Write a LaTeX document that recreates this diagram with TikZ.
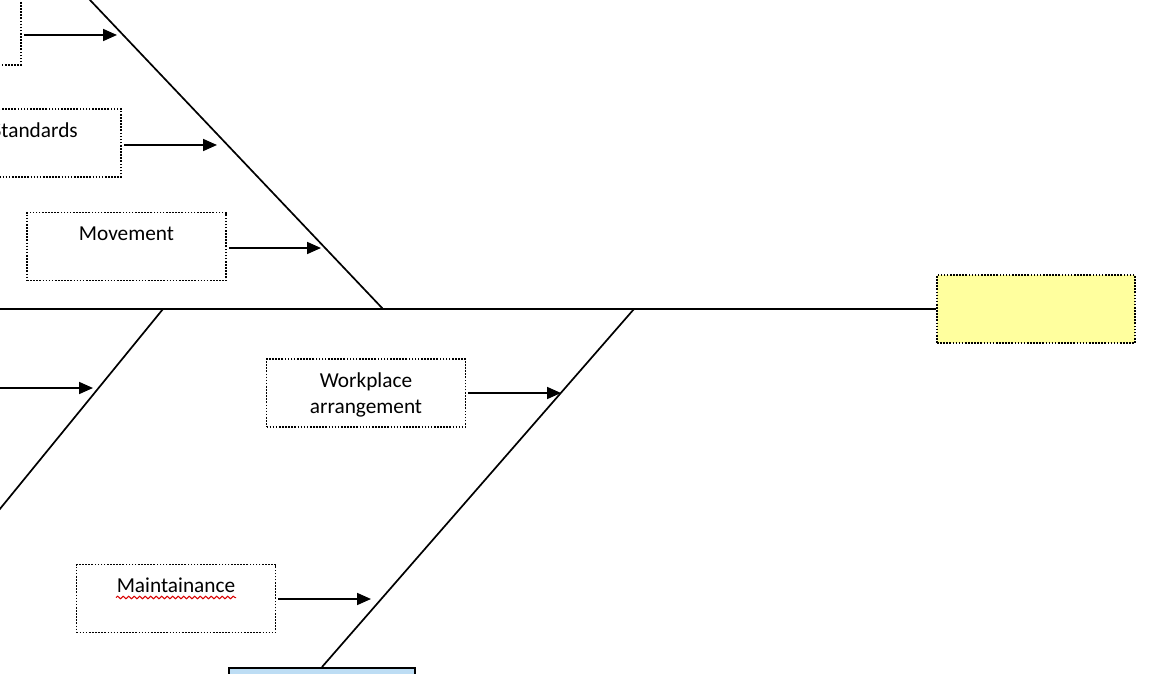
\documentclass[tikz,border=0pt]{standalone}
\usepackage{fontspec}
\setmainfont{Carlito}
\usetikzlibrary{arrows.meta,decorations.pathmorphing}
\definecolor{effectyellow}{HTML}{FFFF9E}
\definecolor{headblue}{HTML}{BDDDF4}
\newcommand{\lowline}[1]{\strut\raisebox{-2pt}{#1}}
\begin{document}
\begin{tikzpicture}[x=1pt,y=-1pt,
  bone/.style={line width=1.7pt},
  causebox/.style={draw, line width=1.6pt, dash pattern=on 1.6pt off 1.5pt,
    minimum width=199pt, minimum height=68pt, inner sep=0pt, align=center,
    font=\fontsize{21.3}{26}\selectfont},
  feed/.style={line width=1.7pt, -{Triangle[length=14pt,width=12pt]}},
  spell/.style={draw=red!85!black, line width=1pt, decorate,
    decoration={snake, amplitude=1.3pt, segment length=5.5pt}},
]
\useasboundingbox (0,0) rectangle (1162,674);
\clip (0,0) rectangle (1162,674);

% spine and bones
\coordinate (s0) at (-5,309);
\coordinate (j1) at (383,309);
\coordinate (j2) at (163,309);
\coordinate (j3) at (634,309);
\coordinate (b1) at (80.5,-10);
\coordinate (b2) at (-5,515);

% boxes
\node[causebox] (tl) at (-78.5,31) {};
\node[causebox] (std) at (21.5,143) {};
\node[font=\fontsize{21.3}{26}\selectfont, anchor=base east, inner sep=0pt] (stdtext) at (78,138) {Standards};
\node[causebox] (mov) at (126.5,246.5) {\lowline{Movement}\\\strut};
\node[causebox] (wp) at (366,393) {\lowline{Workplace}\\\lowline{arrangement}};
\node[causebox] (mt) at (176,598.5) {\lowline{Maintainance}\\\strut};
\node[draw, line width=1.6pt, dash pattern=on 1.6pt off 1.5pt, fill=effectyellow,
  minimum width=198pt, minimum height=68pt, inner sep=0pt] (effect) at (1036,309) {};
\node[draw, line width=2pt, fill=headblue, minimum width=186pt, minimum height=40pt,
  inner sep=0pt] (head) at (322,688) {};

\draw[bone] (s0) -- (effect.west);
\draw[bone] (b1) -- (j1);
\draw[bone] (j2) -- (b2);
\draw[bone] (j3) -- (head.north);

% arrows into bones
\coordinate (a1) at (117,35);
\coordinate (a2) at (217,145);
\coordinate (a3) at (321,248);
\coordinate (l0) at (-5,388);
\coordinate (a4) at (93,388);
\coordinate (a5) at (561,393);
\coordinate (a6) at (371,599);

\draw[feed] ([xshift=2pt]tl.east |- a1) -- (a1);
\draw[feed] ([xshift=2pt]std.east |- a2) -- (a2);
\draw[feed] ([xshift=2pt]mov.east |- a3) -- (a3);
\draw[feed] (l0) -- (a4);
\draw[feed] ([xshift=2pt]wp.east |- a5) -- (a5);
\draw[feed] ([xshift=2pt]mt.east |- a6) -- (a6);

% spell-check underline
\coordinate (w1) at (116,597.5);
\coordinate (w2) at (236,597.5);
\draw[spell] (w1) -- (w2);
\end{tikzpicture}
\end{document}
